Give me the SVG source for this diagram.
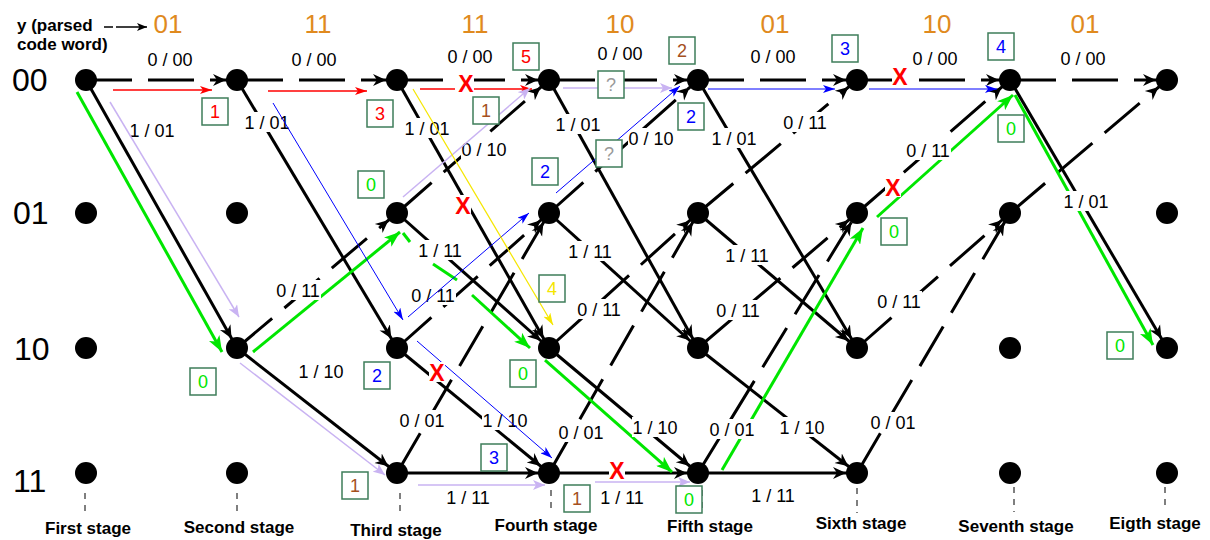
<svg xmlns="http://www.w3.org/2000/svg" width="1210" height="540" viewBox="0 0 1210 540">
<style>
.e{stroke:#000;stroke-width:3;fill:none;marker-end:url(#ak)}
.d{stroke-dasharray:46 16}
.lb rect{fill:#fff}
.lb text,.bx text{font-family:'Liberation Sans',Arial,sans-serif;font-size:18px;text-anchor:middle}
.bx rect{fill:#fff;stroke:#3e7d5a;stroke-width:1.5}
.row{font-family:'Liberation Sans',Arial,sans-serif;font-size:32px}
.cw{font-family:'Liberation Sans',Arial,sans-serif;font-size:26px;fill:#e08a1e;text-anchor:middle}
.st{font-family:'Liberation Sans',Arial,sans-serif;font-size:17px;font-weight:bold;text-anchor:middle}
.hd{font-family:'Liberation Sans',Arial,sans-serif;font-size:17px;font-weight:bold}
.x text{font-family:'Liberation Sans',Arial,sans-serif;font-size:23px;font-weight:bold;fill:#f00;text-anchor:middle}
.x rect{fill:#fff}
.tk{stroke:#555;stroke-width:1.5;stroke-dasharray:6 6}
.r{stroke:#f00;stroke-width:1.3;fill:none}
.b{stroke:#00f;stroke-width:1;fill:none;marker-end:url(#ab)}
.lv{stroke:#c9b3f2;stroke-width:1.5;fill:none;marker-end:url(#al)}
.g{stroke:#00e600;stroke-width:3;fill:none}
.n{fill:#000}
</style>
<defs>
<marker id="ak" markerUnits="userSpaceOnUse" viewBox="0 0 26 14" markerWidth="26" markerHeight="14" refX="24" refY="7" orient="auto"><path d="M0,1 L13,7 L0,13 L4,7 z" fill="#000"/></marker>
<marker id="ah" markerUnits="userSpaceOnUse" viewBox="0 0 10 8" markerWidth="10" markerHeight="8" refX="10" refY="4" orient="auto"><path d="M0,0 L10,4 L0,8 L2.5,4 z" fill="#000"/></marker>
<marker id="ar" markerUnits="userSpaceOnUse" viewBox="0 0 12 8" markerWidth="12" markerHeight="8" refX="12" refY="4" orient="auto"><path d="M0,0 L12,4 L0,8 L3,4 z" fill="#f00"/></marker>
<marker id="ab" markerUnits="userSpaceOnUse" viewBox="0 0 12 8" markerWidth="12" markerHeight="8" refX="12" refY="4" orient="auto"><path d="M0,0 L12,4 L0,8 L3,4 z" fill="#00f"/></marker>
<marker id="al" markerUnits="userSpaceOnUse" viewBox="0 0 12 10" markerWidth="12" markerHeight="10" refX="12" refY="5" orient="auto"><path d="M0,0 L12,5 L0,10 L3,5 z" fill="#c9b3f2"/></marker>
<marker id="ay" markerUnits="userSpaceOnUse" viewBox="0 0 12 8" markerWidth="12" markerHeight="8" refX="12" refY="4" orient="auto"><path d="M0,0 L12,4 L0,8 L3,4 z" fill="#f5e600"/></marker>
<marker id="ag" markerUnits="userSpaceOnUse" viewBox="0 0 16 12" markerWidth="16" markerHeight="12" refX="16" refY="6" orient="auto"><path d="M0,0 L16,6 L0,12 L4,6 z" fill="#00e600"/></marker>
</defs>
<rect width="1210" height="540" fill="#fff"/>

<!-- header -->
<text class="hd" x="17" y="31">y (parsed</text>
<text class="hd" x="17" y="50">code word)</text>
<line x1="104" y1="27" x2="147" y2="27" stroke="#000" stroke-width="1.3" stroke-dasharray="9 3 100" marker-end="url(#ah)"/>
<text class="cw" x="168" y="33">01</text>
<text class="cw" x="318" y="33">11</text>
<text class="cw" x="475" y="33">11</text>
<text class="cw" x="620" y="33">10</text>
<text class="cw" x="775" y="33">01</text>
<text class="cw" x="937" y="33">10</text>
<text class="cw" x="1085" y="33">01</text>

<text class="row" x="12" y="91">00</text>
<text class="row" x="13" y="224">01</text>
<text class="row" x="14" y="360">10</text>
<text class="row" x="13" y="492">11</text>

<!-- connectors -->
<g id="connectors">
<line class="e d" x1="86" y1="80" x2="237" y2="80"/>
<line class="e" x1="86" y1="80" x2="237" y2="348"/>

<line class="e d" x1="237" y1="80" x2="397" y2="80"/>
<line class="e" x1="237" y1="80" x2="397" y2="348"/>
<line class="e d" x1="237" y1="348" x2="397" y2="213"/>
<line class="e" x1="237" y1="348" x2="397" y2="473"/>

<line class="e d" x1="397" y1="80" x2="549" y2="80"/>
<line class="e" x1="397" y1="80" x2="549" y2="348"/>
<line class="e d" x1="397" y1="213" x2="549" y2="80"/>
<line class="e" x1="397" y1="213" x2="549" y2="348"/>
<line class="e d" x1="397" y1="348" x2="549" y2="213"/>
<line class="e" x1="397" y1="348" x2="549" y2="473"/>
<line class="e d" x1="397" y1="473" x2="549" y2="213"/>
<line class="e" x1="397" y1="473" x2="549" y2="473"/>

<line class="e d" x1="549" y1="80" x2="698" y2="80"/>
<line class="e" x1="549" y1="80" x2="698" y2="348"/>
<line class="e d" x1="549" y1="213" x2="698" y2="80"/>
<line class="e" x1="549" y1="213" x2="698" y2="348"/>
<line class="e d" x1="549" y1="348" x2="698" y2="213"/>
<line class="e" x1="549" y1="348" x2="698" y2="473"/>
<line class="e d" x1="549" y1="473" x2="698" y2="213"/>
<line class="e" x1="549" y1="473" x2="698" y2="473"/>

<line class="e d" x1="698" y1="80" x2="857" y2="80"/>
<line class="e" x1="698" y1="80" x2="857" y2="348"/>
<line class="e d" x1="698" y1="213" x2="857" y2="80"/>
<line class="e" x1="698" y1="213" x2="857" y2="348"/>
<line class="e d" x1="698" y1="348" x2="857" y2="213"/>
<line class="e" x1="698" y1="348" x2="857" y2="473"/>
<line class="e d" x1="698" y1="473" x2="857" y2="213"/>
<line class="e" x1="698" y1="473" x2="857" y2="473"/>

<line class="e d" x1="857" y1="80" x2="1010" y2="80"/>
<line class="e d" x1="857" y1="213" x2="1010" y2="80"/>
<line class="e d" x1="857" y1="348" x2="1010" y2="213"/>
<line class="e d" x1="857" y1="473" x2="1010" y2="213"/>

<line class="e d" x1="1010" y1="80" x2="1167" y2="80"/>
<line class="e" x1="1010" y1="80" x2="1167" y2="348"/>
<line class="e d" x1="1010" y1="213" x2="1167" y2="80"/>
</g>

<!-- green survivor path -->
<g id="green-path">
<line class="g" x1="77" y1="92" x2="222" y2="352" marker-end="url(#ag)"/>
<line class="g" x1="253" y1="352" x2="400" y2="232" marker-end="url(#ag)"/>
<line class="g" x1="403" y1="233" x2="410" y2="242"/>
<line class="g" x1="433" y1="264" x2="457" y2="280"/>
<line class="g" x1="472" y1="295" x2="530" y2="348" marker-end="url(#ag)"/>
<line class="g" x1="545" y1="360" x2="672" y2="472" marker-end="url(#ag)"/>
<line class="g" x1="722" y1="470" x2="863" y2="228" marker-end="url(#ag)"/>
<line class="g" x1="877" y1="217" x2="1013" y2="95" marker-end="url(#ag)"/>
<line class="g" x1="1015" y1="95" x2="1153" y2="345" marker-end="url(#ag)"/>
</g>

<!-- edge labels -->
<g id="edge-labels" class="lb">
<rect x="147" y="49" width="46" height="20"/><text x="170" y="65.5">0 / 00</text>
<rect x="291" y="49" width="46" height="20"/><text x="314" y="65.5">0 / 00</text>
<rect x="447" y="46" width="46" height="20"/><text x="470" y="62.5">0 / 00</text>
<rect x="597" y="43" width="46" height="20"/><text x="620" y="59.5">0 / 00</text>
<rect x="750" y="46" width="46" height="20"/><text x="773" y="62.5">0 / 00</text>
<rect x="912" y="48" width="46" height="20"/><text x="935" y="64.5">0 / 00</text>
<rect x="1060" y="48" width="46" height="20"/><text x="1083" y="64.5">0 / 00</text>

<rect x="129" y="120" width="46" height="20"/><text x="152" y="136.5">1 / 01</text>
<rect x="244" y="112" width="46" height="20"/><text x="267" y="128.5">1 / 01</text>
<rect x="404" y="118" width="46" height="20"/><text x="427" y="134.5">1 / 01</text>
<rect x="555" y="114" width="46" height="20"/><text x="578" y="130.5">1 / 01</text>
<rect x="711" y="128" width="46" height="20"/><text x="734" y="144.5">1 / 01</text>
<rect x="1063" y="191" width="46" height="20"/><text x="1086" y="207.5">1 / 01</text>

<rect x="461" y="139" width="46" height="20"/><text x="484" y="155.5">0 / 10</text>
<rect x="628" y="128" width="46" height="20"/><text x="651" y="144.5">0 / 10</text>

<rect x="782" y="112" width="46" height="20"/><text x="805" y="128.5">0 / 11</text>
<rect x="905" y="140" width="46" height="20"/><text x="928" y="156.5">0 / 11</text>
<rect x="275" y="280" width="46" height="20"/><text x="298" y="296.5">0 / 11</text>
<rect x="410" y="285" width="46" height="20"/><text x="433" y="301.5">0 / 11</text>
<rect x="576" y="299" width="46" height="20"/><text x="599" y="315.5">0 / 11</text>
<rect x="715" y="300" width="46" height="20"/><text x="738" y="316.5">0 / 11</text>
<rect x="876" y="291" width="46" height="20"/><text x="899" y="307.5">0 / 11</text>

<rect x="417" y="240" width="46" height="20"/><text x="440" y="256.5">1 / 11</text>
<rect x="567" y="241" width="46" height="20"/><text x="590" y="257.5">1 / 11</text>
<rect x="724" y="245" width="46" height="20"/><text x="747" y="261.5">1 / 11</text>
<rect x="445" y="487" width="46" height="20"/><text x="468" y="503.5">1 / 11</text>
<rect x="599" y="487" width="46" height="20"/><text x="622" y="503.5">1 / 11</text>
<rect x="750" y="485" width="46" height="20"/><text x="773" y="501.5">1 / 11</text>

<rect x="298" y="361" width="46" height="20"/><text x="321" y="377.5">1 / 10</text>
<rect x="482" y="410" width="46" height="20"/><text x="505" y="426.5">1 / 10</text>
<rect x="632" y="417" width="46" height="20"/><text x="655" y="433.5">1 / 10</text>
<rect x="779" y="417" width="46" height="20"/><text x="802" y="433.5">1 / 10</text>

<rect x="399" y="410" width="46" height="20"/><text x="422" y="426.5">0 / 01</text>
<rect x="558" y="422" width="46" height="20"/><text x="581" y="438.5">0 / 01</text>
<rect x="709" y="419" width="46" height="20"/><text x="732" y="435.5">0 / 01</text>
<rect x="870" y="412" width="46" height="20"/><text x="893" y="428.5">0 / 01</text>
</g>

<!-- other traced paths -->
<g id="traced-paths">
<line class="r" x1="113" y1="90" x2="212" y2="90" marker-end="url(#ar)"/>
<line class="r" x1="268" y1="91" x2="367" y2="91" marker-end="url(#ar)"/>
<line class="r" x1="420" y1="89" x2="455" y2="89"/>
<line class="r" x1="474" y1="89" x2="532" y2="89" marker-end="url(#ar)"/>

<line class="b" x1="273" y1="103" x2="403" y2="320"/>
<line class="b" x1="408" y1="317" x2="529" y2="213"/>
<line class="b" x1="417" y1="341" x2="552" y2="458"/>
<line class="b" x1="556" y1="193" x2="680" y2="86"/>
<line class="b" x1="708" y1="89" x2="835" y2="89"/>
<line class="b" x1="869" y1="89" x2="997" y2="89"/>

<line class="lv" x1="110" y1="102" x2="239" y2="317"/>
<line class="lv" x1="240" y1="363" x2="385" y2="475"/>
<line class="lv" x1="403" y1="197" x2="530" y2="88"/>
<line class="lv" x1="563" y1="88" x2="672" y2="88"/>
<line class="lv" x1="418" y1="485" x2="545" y2="485"/>
<line class="lv" x1="595" y1="482" x2="690" y2="482"/>

<line x1="413" y1="89" x2="553" y2="325" stroke="#f5e600" stroke-width="1.2" marker-end="url(#ay)"/>
</g>

<!-- X marks -->
<g id="x-marks" class="x">
<rect x="458" y="73" width="16" height="20"/><text x="466" y="91.5">X</text>
<rect x="455" y="195" width="16" height="20"/><text x="463" y="213.5">X</text>
<rect x="429" y="362" width="16" height="20"/><text x="437" y="380.5">X</text>
<rect x="609" y="460" width="16" height="20"/><text x="617" y="478.5">X</text>
<rect x="892" y="66" width="16" height="20"/><text x="900" y="84.5">X</text>
<rect x="885" y="177" width="16" height="20"/><text x="893" y="195.5">X</text>
</g>

<!-- ticks and stage labels -->
<g id="stages">
<line class="tk" x1="85" y1="493" x2="85" y2="516"/>
<line class="tk" x1="237" y1="493" x2="237" y2="516"/>
<line class="tk" x1="400" y1="493" x2="400" y2="517"/>
<line class="tk" x1="551" y1="490" x2="551" y2="513"/>
<line class="tk" x1="702" y1="490" x2="702" y2="513"/>
<line class="tk" x1="857" y1="488" x2="857" y2="513"/>
<line class="tk" x1="1014" y1="487" x2="1014" y2="512"/>
<line class="tk" x1="1165" y1="487" x2="1165" y2="508"/>
<text class="st" x="88" y="534">First stage</text>
<text class="st" x="239" y="533">Second stage</text>
<text class="st" x="396" y="536">Third stage</text>
<text class="st" x="546" y="531">Fourth stage</text>
<text class="st" x="710" y="532">Fifth stage</text>
<text class="st" x="861" y="529">Sixth stage</text>
<text class="st" x="1016" y="532">Seventh stage</text>
<text class="st" x="1155" y="529">Eigth stage</text>
</g>

<!-- nodes -->
<g id="s1-00"><circle class="n" cx="86" cy="80" r="11"/></g>
<g id="s1-01"><circle class="n" cx="86" cy="213" r="11"/></g>
<g id="s1-10"><circle class="n" cx="86" cy="348" r="11"/></g>
<g id="s1-11"><circle class="n" cx="86" cy="473" r="11"/></g>
<g id="s2-00"><circle class="n" cx="237" cy="80" r="11"/></g>
<g id="s2-01"><circle class="n" cx="237" cy="213" r="11"/></g>
<g id="s2-10"><circle class="n" cx="237" cy="348" r="11"/></g>
<g id="s2-11"><circle class="n" cx="237" cy="473" r="11"/></g>
<g id="s3-00"><circle class="n" cx="397" cy="80" r="11"/></g>
<g id="s3-01"><circle class="n" cx="397" cy="213" r="11"/></g>
<g id="s3-10"><circle class="n" cx="397" cy="348" r="11"/></g>
<g id="s3-11"><circle class="n" cx="397" cy="473" r="11"/></g>
<g id="s4-00"><circle class="n" cx="549" cy="80" r="11"/></g>
<g id="s4-01"><circle class="n" cx="549" cy="213" r="11"/></g>
<g id="s4-10"><circle class="n" cx="549" cy="348" r="11"/></g>
<g id="s4-11"><circle class="n" cx="549" cy="473" r="11"/></g>
<g id="s5-00"><circle class="n" cx="698" cy="80" r="11"/></g>
<g id="s5-01"><circle class="n" cx="698" cy="213" r="11"/></g>
<g id="s5-10"><circle class="n" cx="698" cy="348" r="11"/></g>
<g id="s5-11"><circle class="n" cx="698" cy="473" r="11"/></g>
<g id="s6-00"><circle class="n" cx="857" cy="80" r="11"/></g>
<g id="s6-01"><circle class="n" cx="857" cy="213" r="11"/></g>
<g id="s6-10"><circle class="n" cx="857" cy="348" r="11"/></g>
<g id="s6-11"><circle class="n" cx="857" cy="473" r="11"/></g>
<g id="s7-00"><circle class="n" cx="1010" cy="80" r="11"/></g>
<g id="s7-01"><circle class="n" cx="1010" cy="213" r="11"/></g>
<g id="s7-10"><circle class="n" cx="1010" cy="348" r="11"/></g>
<g id="s7-11"><circle class="n" cx="1010" cy="473" r="11"/></g>
<g id="s8-00"><circle class="n" cx="1167" cy="80" r="11"/></g>
<g id="s8-01"><circle class="n" cx="1167" cy="213" r="11"/></g>
<g id="s8-10"><circle class="n" cx="1167" cy="348" r="11"/></g>
<g id="s8-11"><circle class="n" cx="1167" cy="473" r="11"/></g>

<!-- metric boxes -->
<g id="metric-boxes" class="bx">
<rect x="202" y="98" width="26" height="27"/><text x="215" y="118" fill="#f00">1</text>
<rect x="367" y="100" width="26" height="27"/><text x="380" y="120" fill="#f00">3</text>
<rect x="513" y="43" width="26" height="27"/><text x="526" y="63" fill="#f00">5</text>
<rect x="473" y="97" width="26" height="27"/><text x="486" y="117" fill="#a5501e">1</text>
<rect x="598" y="71" width="26" height="27"/><text x="611" y="91" fill="#999">?</text>
<rect x="596" y="140" width="26" height="27"/><text x="609" y="160" fill="#999">?</text>
<rect x="669" y="37" width="26" height="27"/><text x="682" y="57" fill="#a5501e">2</text>
<rect x="678" y="103" width="26" height="27"/><text x="691" y="123" fill="#00f">2</text>
<rect x="832" y="35" width="26" height="27"/><text x="845" y="55" fill="#00f">3</text>
<rect x="988" y="33" width="26" height="27"/><text x="1001" y="53" fill="#00f">4</text>
<rect x="998" y="115" width="26" height="27"/><text x="1011" y="135" fill="#00e600">0</text>
<rect x="358" y="171" width="26" height="27"/><text x="371" y="191" fill="#00e600">0</text>
<rect x="532" y="158" width="26" height="27"/><text x="545" y="178" fill="#00f">2</text>
<rect x="539" y="275" width="26" height="27"/><text x="552" y="295" fill="#f5e600">4</text>
<rect x="881" y="218" width="26" height="27"/><text x="894" y="238" fill="#00e600">0</text>
<rect x="1107" y="332" width="26" height="27"/><text x="1120" y="352" fill="#00e600">0</text>
<rect x="190" y="368" width="26" height="27"/><text x="203" y="388" fill="#00e600">0</text>
<rect x="364" y="362" width="26" height="27"/><text x="377" y="382" fill="#00f">2</text>
<rect x="510" y="360" width="26" height="27"/><text x="523" y="380" fill="#00e600">0</text>
<rect x="342" y="472" width="26" height="27"/><text x="355" y="492" fill="#a5501e">1</text>
<rect x="481" y="444" width="26" height="27"/><text x="494" y="464" fill="#00f">3</text>
<rect x="564" y="485" width="26" height="27"/><text x="577" y="505" fill="#a5501e">1</text>
<rect x="676" y="486" width="26" height="27"/><text x="689" y="506" fill="#00e600">0</text>
</g>
</svg>
